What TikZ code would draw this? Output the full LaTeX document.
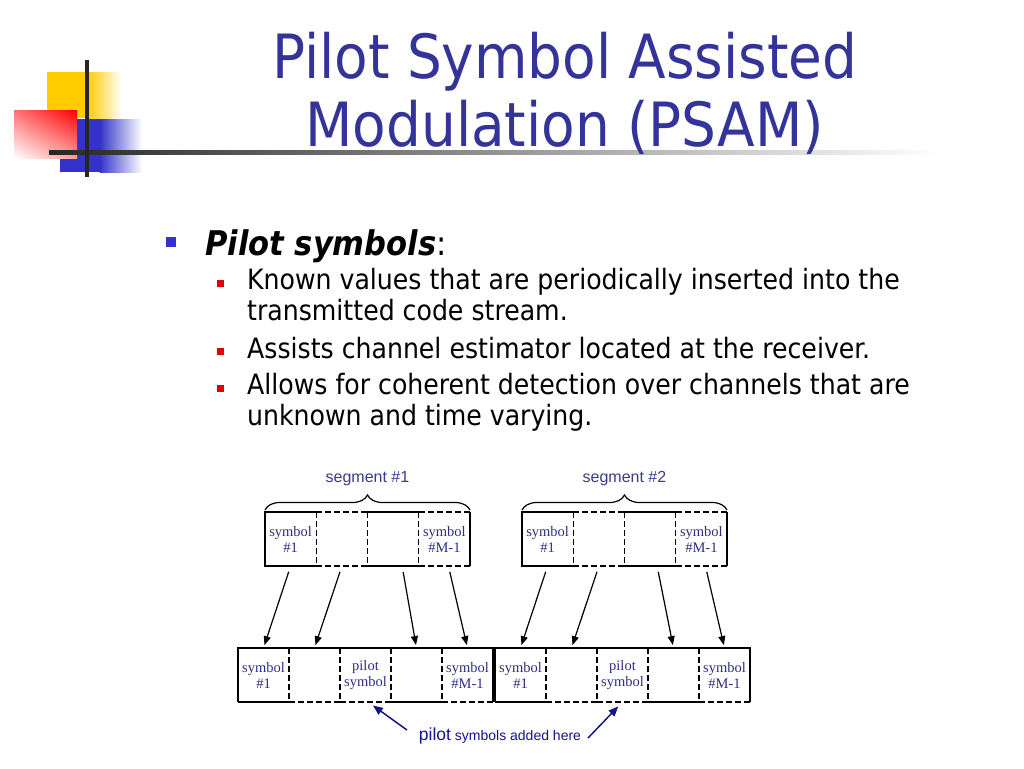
\documentclass[tikz,border=0pt]{standalone}
\usepackage{fontspec}
\setmainfont{DejaVu Sans Condensed}
\newfontfamily\arialf{Liberation Sans}
\newfontfamily\tnrf{Liberation Serif}
\usetikzlibrary{arrows.meta,decorations.pathreplacing,shadings}
\definecolor{titleblue}{HTML}{333399}
\definecolor{bulblue}{HTML}{3333CC}
\definecolor{bulred}{HTML}{E00000}
\definecolor{cellblue}{HTML}{2E2E80}
\definecolor{segblue}{HTML}{3A3A8E}
\definecolor{navyc}{HTML}{14148A}
\definecolor{decoyellow}{HTML}{FFCC00}
\definecolor{decoblue}{HTML}{3333CC}
\begin{document}
\begin{tikzpicture}[x=1pt,y=-1pt,
  titletext/.style={anchor=base, text=titleblue, inner sep=0pt, font=\fontsize{61}{68}\selectfont},
  bodytext/.style={anchor=base west, inner sep=0pt, font=\fontsize{28}{31}\selectfont},
  bulone/.style={fill=bulblue, minimum size=10pt, inner sep=0pt},
  bultwo/.style={fill=bulred, minimum size=7pt, inner sep=0pt},
  cell/.style={minimum width=51.25pt, minimum height=54pt, inner sep=0pt, outer sep=0pt, align=center, text=cellblue, font=\tnrf\fontsize{14.5}{16}\selectfont},
  bcell/.style={cell, minimum width=51pt},
  thinline/.style={line width=1.2pt, black},
  dashline/.style={line width=1.2pt, black, dash pattern=on 6pt off 3pt},
  frame/.style={line width=2.2pt, black},
  framedash/.style={line width=2.2pt, black, dash pattern=on 6pt off 3pt},
  arr/.style={line width=1.2pt, -{Triangle[length=9pt,width=7pt]}, shorten <=6pt, shorten >=3pt},
  parr/.style={line width=1.5pt, navyc, -{Triangle[length=10pt,width=8pt]}},
  brace/.style={line width=1.2pt, decorate, decoration={brace, amplitude=15pt, raise=2pt}},
  seglab/.style={text=segblue, inner sep=0pt, font=\arialf\fontsize{16}{18}\selectfont},
  plab/.style={anchor=base, text=navyc, inner sep=0pt, font=\arialf\fontsize{14}{16}\selectfont}
]
\useasboundingbox (0,0) rectangle (1024,768);
% decoration
\fill[decoyellow] (47,72) rectangle (88,118);
\shade[left color=decoyellow, right color=white] (87.5,72) rectangle (122,118);
\fill[decoblue] (60,119) rectangle (100,172);
\shade[left color=decoblue, right color=white] (99.5,119) rectangle (142,172);
\shade[upper left=red!55, upper right=red, lower left=white, lower right=red!40] (14,110) rectangle (77,158);
\shade[left color=black!85, middle color=black!45, right color=white] (49,150.5) rectangle (940,154);
\draw[line width=4pt, black!85] (87,60) -- (87,177);
% title
\node[titletext] (title1) at (565,78) {Pilot Symbol Assisted};
\node[titletext] (title2) at (565,146) {Modulation (PSAM)};
% bullets
\node[bulone] (bu0) at (171,242) {};
\node[anchor=base west, inner sep=0pt, font=\fontsize{34}{36}\selectfont] (head) at (205,255) {\bfseries\itshape Pilot symbols{\normalfont :}};
\node[bultwo] (bu1) at (220.5,283) {};
\node[bodytext] (txt1a) at (247,289) {Known values that are periodically inserted into the};
\node[bodytext] (txt1b) at (247,320) {transmitted code stream.};
\node[bultwo] (bu2) at (220.5,351.5) {};
\node[bodytext] (txt2) at (247,358) {Assists channel estimator located at the receiver.};
\node[bultwo] (bu3) at (220.5,388.5) {};
\node[bodytext] (txt3a) at (247,394) {Allows for coherent detection over channels that are};
\node[bodytext] (txt3b) at (247,425) {unknown and time varying.};
% top row segment 1
\node[cell] (a1) at (290.6,539) {symbol\\\#1};
\node[cell] (a2) at (341.9,539) {};
\node[cell] (a3) at (393.1,539) {};
\node[cell] (a4) at (444.4,539) {symbol\\\#M-1};
% top row segment 2
\node[cell] (c1) at (547.6,539) {symbol\\\#1};
\node[cell] (c2) at (598.9,539) {};
\node[cell] (c3) at (650.1,539) {};
\node[cell] (c4) at (701.4,539) {symbol\\\#M-1};
\foreach \p in {a,c}{
  \draw[thinline] (\p1.north east) -- (\p1.north west) -- (\p1.south west) -- (\p1.south east);
  \draw[thinline] (\p3.north west) -- (\p3.north east);
  \draw[thinline] (\p3.south west) -- (\p3.south east);
  \draw[dashline] (\p2.north west) -- (\p2.north east);
  \draw[dashline] (\p2.south west) -- (\p2.south east);
  \draw[dashline] (\p4.north west) -- (\p4.north east);
  \draw[dashline] (\p4.south west) -- (\p4.south east);
  \draw[thinline] (\p4.north east) -- (\p4.south east);
  \draw[dashline] (\p1.north east) -- (\p1.south east);
  \draw[dashline] (\p2.north east) -- (\p2.south east);
  \draw[dashline] (\p3.north east) -- (\p3.south east);
}
% braces and labels
\draw[brace] (a1.north west) -- (a4.north east);
\draw[brace] (c1.north west) -- (c4.north east);
\node[seglab] (s1) at (367.5,479) {segment \#1};
\node[seglab] (s2) at (624.5,479) {segment \#2};
% bottom row segment 1
\node[bcell] (b1) at (263.5,675) {symbol\\\#1};
\node[bcell] (b2) at (314.5,675) {};
\node[bcell] (b3) at (365.5,675) {pilot\\symbol};
\node[bcell] (b4) at (416.5,675) {};
\node[bcell] (b5) at (467.5,675) {symbol\\\#M-1};
% bottom row segment 2
\node[bcell] (d1) at (520.5,675) {symbol\\\#1};
\node[bcell] (d2) at (571.5,675) {};
\node[bcell] (d3) at (622.5,675) {pilot\\symbol};
\node[bcell] (d4) at (673.5,675) {};
\node[bcell] (d5) at (724.5,675) {symbol\\\#M-1};
\foreach \p in {b,d}{
  \draw[frame] (\p1.south west) -- (\p1.north west) -- (\p5.north east) -- (\p5.south east);
  \draw[frame] (\p1.south west) -- (\p1.south east);
  \draw[frame] (\p4.south west) -- (\p4.south east);
  \draw[framedash] (\p2.south west) -- (\p2.south east);
  \draw[framedash] (\p3.south west) -- (\p3.south east);
  \draw[framedash] (\p5.south west) -- (\p5.south east);
  \foreach \i in {1,2,3,4}{
    \draw[dashline] (\p\i.north east) -- (\p\i.south east);
  }
}
% mapping arrows
\draw[arr] (a1.south) -- (b1.north);
\draw[arr] (a2.south) -- (b2.north);
\draw[arr] ([xshift=9pt]a3.south) -- (b4.north);
\draw[arr] ([xshift=4pt]a4.south) -- (b5.north);
\draw[arr] (c1.south) -- (d1.north);
\draw[arr] (c2.south) -- (d2.north);
\draw[arr] ([xshift=7pt]c3.south) -- (d4.north);
\draw[arr] ([xshift=4pt]c4.south) -- (d5.north);
% pilot label
\node[plab] (pl) at (500,740) {{\fontsize{17.5}{18}\selectfont pilot} symbols added here};
\coordinate (tl) at (407,730);
\coordinate (tr) at (588,738);
\draw[parr, shorten >=6pt] (tl) -- ([xshift=2.5pt]b3.south);
\draw[parr, shorten >=6pt] (tr) -- (d3.south);
\end{tikzpicture}
\end{document}
